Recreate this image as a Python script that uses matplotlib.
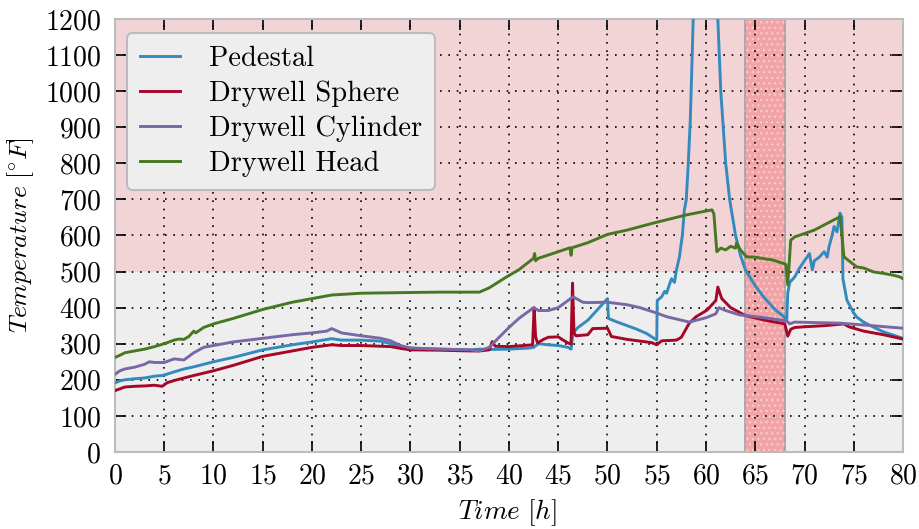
import matplotlib
matplotlib.use("Agg")
import matplotlib.pyplot as plt

plt.rcParams['font.family'] = ['cmr10', 'DejaVu Serif']
plt.rcParams['mathtext.fontset'] = 'cm'
plt.rcParams['axes.formatter.use_mathtext'] = True

# (time [h], temperature [F])
pedestal = [(0, 192), (0.5, 197), (1, 200), (2, 203), (3, 205), (4, 210), (4.8, 212), (5.2, 215), (6, 222),
            (7, 230), (8, 236), (10, 250), (12, 262), (15, 283), (18, 297), (20, 305), (22, 314), (23, 310),
            (25, 310), (27, 307), (28, 300), (29, 292), (30, 288), (33, 285), (36, 283), (37, 285), (38, 284),
            (40, 285), (42, 288), (42.5, 290), (43, 300), (44, 297), (45, 295), (46, 290), (46.3, 285),
            (46.5, 330), (47, 345), (48, 365), (49, 395), (50, 425), (50.1, 370), (51, 360), (52, 350),
            (53, 340), (54, 328), (55, 310), (55.05, 420), (55.5, 430), (55.8, 445), (56, 440), (56.3, 465),
            (56.5, 480), (56.8, 470), (57, 505), (57.3, 540), (57.6, 600), (57.8, 670), (58, 700), (58.2, 800),
            (58.4, 916), (58.6, 1100), (58.8, 1300), (60.9, 1300), (61.2, 1200), (61.5, 1000), (62, 800),
            (62.4, 700), (63, 600), (63.5, 545), (64, 505), (65, 460), (66, 425), (67, 395), (68.2, 368),
            (68.3, 440), (68.5, 470), (69, 485), (69.5, 510), (70, 530), (70.5, 550), (70.8, 505), (71, 530),
            (71.5, 540), (72, 555), (72.3, 540), (72.5, 570), (72.8, 600), (73, 625), (73.3, 610), (73.6, 662),
            (73.8, 650), (73.9, 480), (74.3, 421), (75, 385), (75.3, 374), (76, 360), (77, 346), (78, 333),
            (79, 324), (80, 315)]

sphere = [(0, 170), (0.5, 175), (1, 180), (2, 182), (3, 183), (4, 185), (4.8, 182), (5.3, 192), (6, 198),
          (7, 205), (8, 212), (10, 225), (12, 240), (15, 265), (18, 280), (20, 290), (22, 297), (23, 295),
          (25, 295), (27, 293), (28, 292), (29, 287), (30, 283), (33, 282), (36, 280), (37, 280), (38, 283),
          (38.3, 306), (38.6, 293), (40, 292), (42.4, 297), (42.55, 400), (42.7, 320), (42.9, 302), (43.5, 312),
          (44, 318), (45, 319), (45.5, 310), (46, 302), (46.3, 299), (46.45, 468), (46.6, 330), (46.8, 322),
          (48, 325), (48.5, 342), (50, 343), (50.4, 320), (52, 312), (54.5, 303), (55, 297), (55.5, 308),
          (57, 310), (57.5, 318), (58.3, 357), (59, 375), (60.1, 393), (61, 420), (61.2, 457), (61.6, 425),
          (62.5, 400), (64, 378), (66, 365), (68, 355), (68.3, 321), (68.6, 340), (69, 345), (70, 347),
          (72, 350), (74, 355), (74.5, 347), (76, 335), (78, 325), (80, 313)]

cylinder = [(0, 215), (0.5, 225), (1, 230), (2, 235), (3, 243), (3.5, 250), (4, 248), (5, 248), (6, 258),
            (7, 255), (7.5, 265), (8, 275), (9, 290), (10, 295), (12, 305), (15, 315), (18, 325), (20, 330),
            (21.5, 335), (22, 342), (23, 330), (25, 322), (27, 315), (28, 308), (29, 295), (30, 288), (33, 285),
            (36, 283), (37, 280), (38, 290), (39, 318), (40, 345), (41, 370), (42.5, 400), (43, 392), (44, 392),
            (45, 400), (46.5, 430), (47.5, 415), (48, 414), (50, 415), (52, 408), (53.3, 400), (55, 385),
            (56, 375), (58.3, 360), (60, 372), (61, 383), (61.3, 400), (62, 392), (63.4, 380), (66, 372),
            (68.2, 363), (68.5, 355), (69, 360), (72, 358), (73.6, 357), (76, 352), (80, 343)]

head = [(0, 262), (0.5, 268), (1, 275), (2, 280), (3, 285), (4, 292), (5, 300), (6, 310), (6.5, 313), (7, 312),
        (7.5, 320), (8, 335), (8.2, 330), (9, 345), (10, 355), (12, 370), (15, 395), (18, 415), (20, 425),
        (22, 435), (25, 440), (30, 442), (33, 443), (37, 443), (38, 455), (39.8, 486), (41, 505), (42.5, 537),
        (42.6, 550), (42.7, 530), (43, 537), (45, 555), (46.2, 566), (46.3, 545), (46.4, 566), (48, 580),
        (50, 603), (52, 615), (54.6, 634), (58, 657), (60.6, 671), (60.8, 660), (61.1, 555), (61.5, 565),
        (62, 560), (62.5, 570), (63, 565), (63.1, 579), (63.5, 560), (64.1, 541), (65, 540), (66, 535),
        (66.8, 532), (67.8, 523), (68.1, 520), (68.3, 463), (68.6, 587), (69, 596), (71, 615), (73.6, 652),
        (73.8, 600), (74, 541), (74.5, 530), (75.3, 513), (76, 510), (77, 499), (78, 495), (79, 490),
        (79.7, 485), (80, 480)]

series = [('Pedestal', pedestal, '#348ABD'),
          ('Drywell Sphere', sphere, '#A60628'),
          ('Drywell Cylinder', cylinder, '#7A68A6'),
          ('Drywell Head', head, '#467821')]

fig = plt.figure(figsize=(9.19, 5.29), dpi=100)
ax = fig.add_axes([0.1251, 0.1456, 0.8575, 0.8185])
ax.set_facecolor('#eeeeee')

# limit region and event window
ax.axhspan(500, 1200, facecolor='#f2d4d7', edgecolor='none', zorder=0.3)
ax.axvspan(64, 68, facecolor='#f2a3a6', edgecolor='#a0a0a0', lw=1.2, zorder=0.4)
ax.axvspan(64, 68, facecolor='none', edgecolor='#f8c9cb', hatch='...', lw=0, zorder=0.45)

for name, pts, col in series:
    t, temp = zip(*pts)
    ax.plot(t, temp, color=col, lw=2.1, label=name, zorder=3)

ax.set_xlim(0, 80)
ax.set_ylim(0, 1200)
ax.set_xticks(range(0, 81, 5))
ax.set_yticks(range(0, 1201, 100))
ax.grid(True, color='black', linestyle=(0, (1, 4)), lw=1.2, zorder=1)
ax.set_axisbelow(True)
ax.tick_params(direction='in', length=8, width=1.2, top=True, right=True, labelsize=20)
ax.tick_params(axis='y', pad=10)
ax.tick_params(axis='x', pad=8)
for s in ax.spines.values():
    s.set_color('#bcbcbc')
    s.set_linewidth(1.5)

ax.set_xlabel(r'$Time\ [h]$', fontsize=19.5)
ax.set_ylabel(r'$Temperature\ [^{\circ}F]$', fontsize=18.5)
ax.xaxis.set_label_coords(0.498, -0.105)
ax.yaxis.set_label_coords(-0.1, 0.5)

leg = ax.legend(loc='upper left', fontsize=20.5, frameon=True, handlelength=1.4, handletextpad=1.0,
                borderpad=0.45, labelspacing=0.3, borderaxespad=0.3, bbox_to_anchor=(0.005, 0.987))
leg.get_frame().set_facecolor('#eeeeee')
leg.get_frame().set_edgecolor('#bcbcbc')
leg.get_frame().set_linewidth(1.5)
leg.get_frame().set_alpha(1)

fig.savefig('out.png', dpi=100)
